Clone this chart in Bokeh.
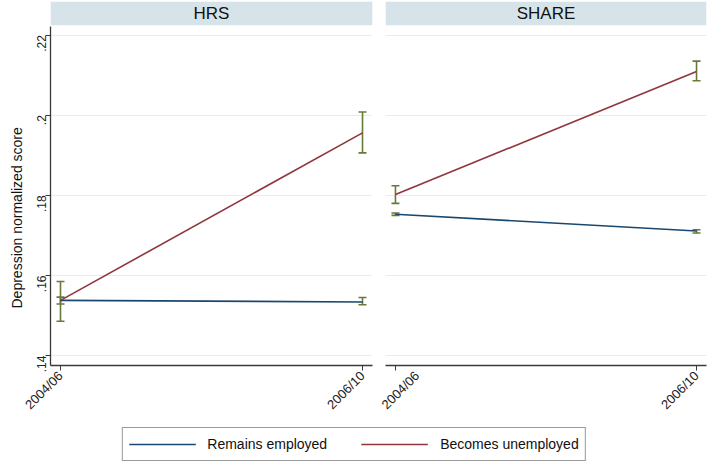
import math
from bokeh.plotting import figure
from bokeh.layouts import column, row
from bokeh.models import (FixedTicker, Range1d, Whisker, TeeHead, ColumnDataSource,
                          Legend, LegendItem, Title)
from bokeh.core.properties import value
from bokeh.embed import file_html
from bokeh.resources import INLINE

# ---------------- data ----------------
waves = ["2004/06", "2006/10"]
wave_pos = [0, 1]
panels = ["HRS", "SHARE"]
series = ["Remains employed", "Becomes unemployed"]
y_title = "Depression normalized score"

hrs_emp = [0.1538, 0.1534]
hrs_emp_lo = [0.1529, 0.1527]
hrs_emp_hi = [0.1546, 0.1545]
hrs_unemp = [0.1538, 0.1956]
hrs_unemp_lo = [0.1486, 0.1906]
hrs_unemp_hi = [0.1585, 0.2008]

share_emp = [0.1753, 0.1711]
share_emp_lo = [0.1750, 0.1706]
share_emp_hi = [0.1756, 0.1714]
share_unemp = [0.1802, 0.2109]
share_unemp_lo = [0.1780, 0.2086]
share_unemp_hi = [0.1824, 0.2135]

yticks = [0.14, 0.16, 0.18, 0.20, 0.22]
ytick_labels = [".14", ".16", ".18", ".2", ".22"]

# ---------------- style ----------------
BLUE = "#1a476f"
RED = "#90353b"
CI = "#667a3a"
HEADER = "#d6e4ea"
GRID = "#e6edf1"
AXIS = "#3a3a3a"
FONT = "Liberation Sans"

Y0, YPLOT_TOP, HDR_BOT, Y1 = 0.13754, 0.22222, 0.22246, 0.22837
X0, X1 = -0.0331, 1.0331
FRAME_H = 369


def panel(title, emp, emp_lo, emp_hi, un, un_lo, un_hi, first):
    mbl = 50 if first else 7
    mbr = 6 if first else 1
    fw = 322 if first else 321
    p = figure(width=mbl + fw + mbr, height=1 + FRAME_H + 50,
               x_range=Range1d(X0, X1), y_range=Range1d(Y0, Y1),
               toolbar_location=None, output_backend="svg",
               min_border_left=mbl, min_border_right=mbr,
               min_border_top=1, min_border_bottom=50)
    p.outline_line_color = None
    p.background_fill_color = "white"
    p.border_fill_color = "white"

    # header strip
    p.quad(left=[X0], right=[X1], bottom=[HDR_BOT], top=[Y1],
           fill_color=HEADER, line_color=None)
    p.text(x=[0.5], y=[(HDR_BOT + Y1) / 2], text=[title],
           text_align="center", text_baseline="middle",
           text_font=value(FONT), text_font_size="17px", text_color="#111111")

    # grid
    p.xgrid.visible = False
    p.ygrid.ticker = FixedTicker(ticks=yticks)
    p.ygrid.grid_line_color = GRID
    p.ygrid.grid_line_width = 1

    # x axis
    xa = p.xaxis[0]
    xa.ticker = FixedTicker(ticks=wave_pos)
    xa.major_label_overrides = {wp: w for wp, w in zip(wave_pos, waves)}
    xa.major_label_orientation = math.pi / 4
    xa.minor_tick_line_color = None
    xa.major_tick_in = 0
    xa.major_tick_out = 5
    xa.major_label_standoff = 3
    xa.axis_line_color = AXIS
    xa.axis_line_width = 1.3
    xa.major_tick_line_color = AXIS
    xa.major_label_text_font = FONT
    xa.major_label_text_font_size = "13px"
    xa.major_label_text_color = "#222222"

    ya = p.yaxis[0]
    if first:
        ya.ticker = FixedTicker(ticks=yticks)
        ya.major_label_overrides = {t: l for t, l in zip(yticks, ytick_labels)}
        ya.major_label_orientation = math.pi / 2
        ya.bounds = (Y0, YPLOT_TOP)
        ya.minor_tick_line_color = None
        ya.major_tick_in = 0
        ya.major_tick_out = 5
        ya.major_label_standoff = 4
        ya.axis_line_color = AXIS
        ya.axis_line_width = 1.3
        ya.major_tick_line_color = AXIS
        ya.major_label_text_font = FONT
        ya.major_label_text_font_size = "12px"
        ya.major_label_text_color = "#222222"
        # axis title, placed lower like the reference
        p.add_layout(Title(text=y_title, align="left", offset=57,
                           standoff=10, text_font=FONT, text_font_size="14px",
                           text_font_style="normal", text_color="#111111"),
                     "left")
    else:
        ya.visible = False

    # series lines
    p.line(wave_pos, emp, line_color=BLUE, line_width=1.6)
    p.line(wave_pos, un, line_color=RED, line_width=1.6)

    # CI whiskers
    for lo, hi in ((emp_lo, emp_hi), (un_lo, un_hi)):
        src = ColumnDataSource(dict(x=wave_pos, lo=lo, hi=hi))
        w = Whisker(source=src, base="x", lower="lo", upper="hi",
                    line_color=CI, line_width=1.6,
                    upper_head=TeeHead(size=8, line_color=CI, line_width=1.6),
                    lower_head=TeeHead(size=8, line_color=CI, line_width=1.6))
        p.add_layout(w)
    return p


p1 = panel(panels[0], hrs_emp, hrs_emp_lo, hrs_emp_hi,
           hrs_unemp, hrs_unemp_lo, hrs_unemp_hi, True)
p2 = panel(panels[1], share_emp, share_emp_lo, share_emp_hi,
           share_unemp, share_unemp_lo, share_unemp_hi, False)

# legend strip (its renderers lie outside its visible range; only the keys show)
p3 = figure(width=p1.width + p2.width, height=44, toolbar_location=None,
            output_backend="svg", x_range=Range1d(0, 1), y_range=Range1d(5, 6),
            min_border=0)
p3.axis.visible = False
p3.grid.visible = False
p3.outline_line_color = None
p3.border_fill_color = "white"
p3.background_fill_color = "white"
r1 = p3.line(wave_pos, hrs_emp, line_color=BLUE, line_width=1.6)
r2 = p3.line(wave_pos, hrs_unemp, line_color=RED, line_width=1.6)
leg = Legend(items=[LegendItem(label=series[0], renderers=[r1]),
                    LegendItem(label=series[1], renderers=[r2])],
             orientation="horizontal", location="bottom_center",
             border_line_color="#333333", border_line_width=1.3,
             background_fill_color="white",
             padding=6, spacing=34, margin=3,
             glyph_width=67, glyph_height=20, label_height=20,
             label_standoff=12,
             label_text_font=FONT, label_text_font_size="14px",
             label_text_color="#111111")
p3.add_layout(leg, "center")

layout = column(row(p1, p2, spacing=0), p3, spacing=0)

open("out.html", "w").write(file_html(layout, INLINE))
